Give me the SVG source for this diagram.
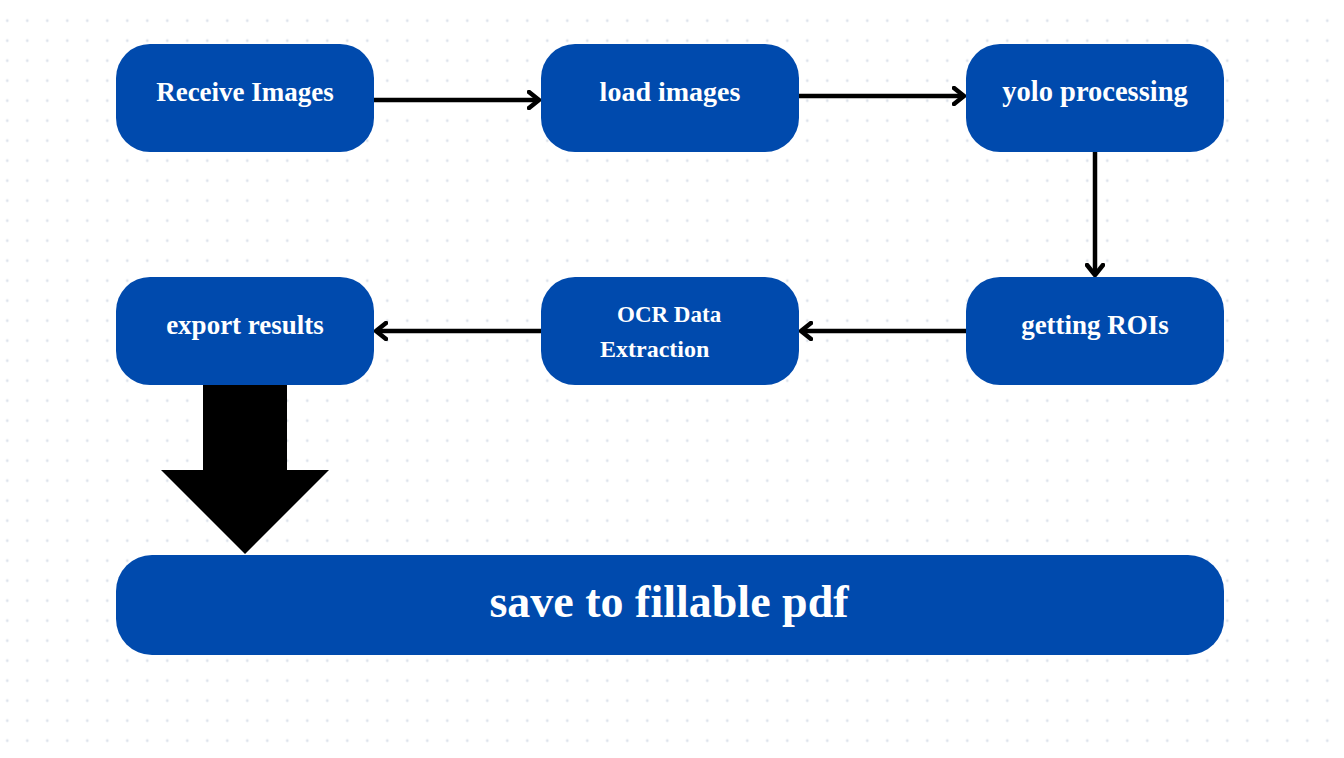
<svg xmlns="http://www.w3.org/2000/svg" width="1344" height="758" viewBox="0 0 1344 758">
<defs>
<pattern id="dots" patternUnits="userSpaceOnUse" x="-2.7" y="-9.3" width="20" height="20">
<circle cx="10" cy="10" r="1.4" fill="#dde3ec"/>
</pattern>
<marker id="chev" viewBox="0 0 14 20" refX="12" refY="10" markerWidth="14" markerHeight="20" markerUnits="userSpaceOnUse" orient="auto">
<polyline points="2,2 12,10 2,18" fill="none" stroke="#000" stroke-width="4.5" stroke-linecap="round" stroke-linejoin="round"/>
</marker>
</defs>
<style>
.node{fill:#004aad;}
.lbl{font-family:"Liberation Serif","Times New Roman",serif;font-weight:bold;fill:#ffffff;font-size:27px;}
.conn{stroke:#000;stroke-width:4.5;fill:none;marker-end:url(#chev);}
</style>
<rect x="0" y="0" width="1344" height="758" fill="#ffffff"/>
<rect x="0" y="10" width="1344" height="748" fill="url(#dots)"/>
<g id="connectors">
<line class="conn" x1="374" y1="100" x2="539" y2="100"/>
<line class="conn" x1="799" y1="96" x2="964" y2="96"/>
<line class="conn" x1="1095" y1="152" x2="1095" y2="275"/>
<line class="conn" x1="966" y1="331" x2="801" y2="331"/>
<line class="conn" x1="541" y1="331" x2="376" y2="331"/>
<polygon id="big-arrow" points="203,385 287,385 287,470 329,470 245,554 161,470 203,470" fill="#000"/>
</g>
<g id="n1"><rect class="node" x="116" y="44" width="258" height="108" rx="34"/><text class="lbl" x="245" y="101" text-anchor="middle">Receive Images</text></g>
<g id="n2"><rect class="node" x="541" y="44" width="258" height="108" rx="34"/><text class="lbl" style="font-size:28px" x="670" y="101" text-anchor="middle">load images</text></g>
<g id="n3"><rect class="node" x="966" y="44" width="258" height="108" rx="34"/><text class="lbl" style="font-size:28.5px" x="1095" y="101" text-anchor="middle">yolo processing</text></g>
<g id="n4"><rect class="node" x="966" y="277" width="258" height="108" rx="34"/><text class="lbl" x="1095" y="334" text-anchor="middle">getting ROIs</text></g>
<g id="n5"><rect class="node" x="541" y="277" width="258" height="108" rx="34"/><text class="lbl" style="font-size:23px" x="617" y="322">OCR Data</text><text class="lbl" style="font-size:24px" x="600" y="357">Extraction</text></g>
<g id="n6"><rect class="node" x="116" y="277" width="258" height="108" rx="34"/><text class="lbl" x="245" y="334" text-anchor="middle">export results</text></g>
<g id="n7"><rect class="node" x="116" y="555" width="1108" height="100" rx="36"/><text class="lbl" style="font-size:46px" x="669" y="617" text-anchor="middle">save to fillable pdf</text></g>
</svg>
